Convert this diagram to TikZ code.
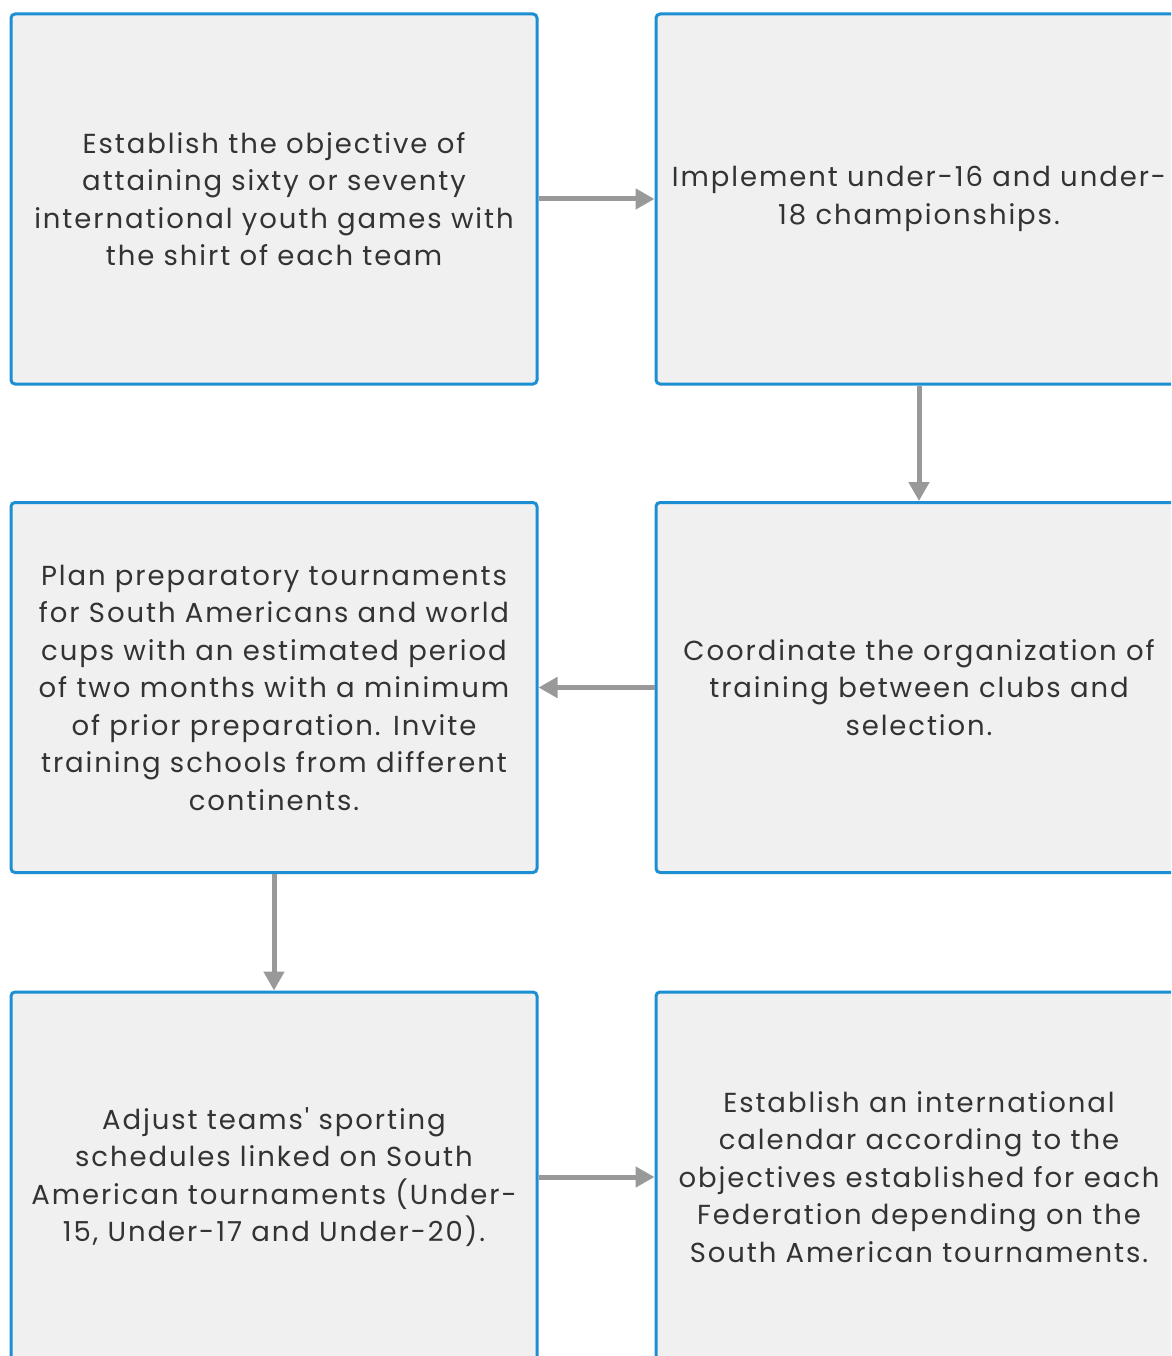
\documentclass[tikz,border=0pt]{standalone}
\usepackage{fontspec}
\setmainfont{Poppins}[LetterSpace=7, Ligatures=TeXOff]
\usetikzlibrary{arrows.meta}
\definecolor{boxblue}{HTML}{1B8FD2}
\definecolor{boxfill}{HTML}{F0F0F0}
\definecolor{arrowgray}{HTML}{999999}
\definecolor{textgray}{HTML}{333333}

\begin{document}
\begin{tikzpicture}[x=1pt, y=-1pt,
		stage/.style={draw=boxblue, fill=boxfill, line width=3pt, rounded corners=4pt,
			minimum width=526pt, minimum height=370pt, inner sep=0pt,
			align=center, text=textgray, font=\fontsize{27.5}{37.5}\selectfont},
		flow/.style={draw=arrowgray, line width=5pt, -{Triangle[length=19pt, width=20pt]}}]
		%%%%% START %%%%%
		
		\useasboundingbox (0, 0) rectangle (1171, 1356);
		\clip (0, 0) rectangle (1171, 1356);
		
		\node[stage] (objective) at (274, 199) {Establish the objective of\\attaining sixty or seventy\\international youth games with\\the shirt of each team};
		\node[stage] (championships) at (919, 199) {Implement under-16 and under-\\18 championships.};
		
		\node[stage] (plan) at (274, 687.5) {Plan preparatory tournaments\\for South Americans and world\\cups with an estimated period\\of two months with a minimum\\of prior preparation. Invite\\training schools from different\\continents.};
		\node[stage] (coordinate) at (919, 687.5) {Coordinate the organization of\\training between clubs and\\selection.};
		
		\node[stage] (adjust) at (274, 1177) {Adjust teams' sporting\\schedules linked on South\\American tournaments (Under-\\15, Under-17 and Under-20).};
		\node[stage] (calendar) at (919, 1177) {Establish an international\\calendar according to the\\objectives established for each\\Federation depending on the\\South American tournaments.};
		
		\draw[flow] (objective) -- (championships);
		\draw[flow] (championships) -- (coordinate);
		\draw[flow] (coordinate) -- (plan);
		\draw[flow] (plan) -- (adjust);
		\draw[flow] (adjust) -- (calendar);
		
		%%%%% END %%%%%
	\end{tikzpicture}
\end{document}
